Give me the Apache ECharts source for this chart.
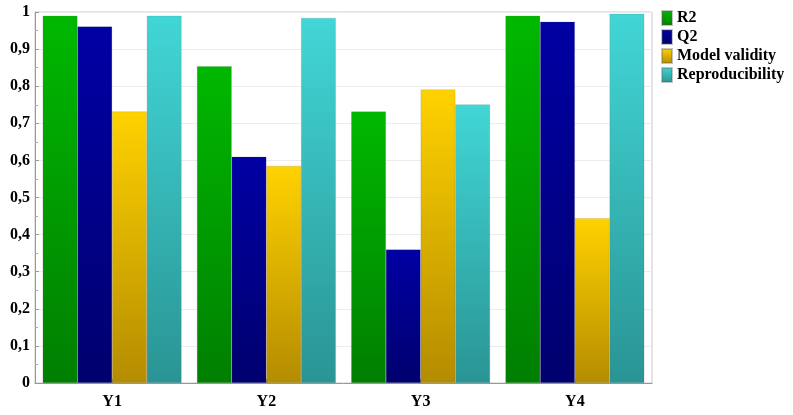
<!DOCTYPE html>
<html>
<head>
<meta charset="utf-8">
<script src="https://cdn.jsdelivr.net/npm/echarts@6/dist/echarts.min.js"></script>
<style>html,body{margin:0;padding:0;background:#fff}#c{width:793px;height:415px}</style>
</head>
<body>
<div id="c"></div>
<script>
var categories = ['Y1', 'Y2', 'Y3', 'Y4'];
var seriesNames = ['R2', 'Q2', 'Model validity', 'Reproducibility'];
var r2 = [0.990, 0.854, 0.732, 0.990];
var q2 = [0.961, 0.610, 0.360, 0.974];
var modelValidity = [0.732, 0.585, 0.791, 0.444];
var reproducibility = [0.990, 0.984, 0.751, 0.995];
var yTicks = [0, 0.1, 0.2, 0.3, 0.4, 0.5, 0.6, 0.7, 0.8, 0.9, 1];

var values = [r2, q2, modelValidity, reproducibility];
var colorTop = ['#00b800', '#0000a4', '#ffd200', '#42d6d6'];
var colorBottom = ['#007f00', '#00006e', '#b48c00', '#2a9494'];
var FONT = '"Liberation Serif", "Times New Roman", serif';

function grad(i) {
  return new echarts.graphic.LinearGradient(0, 0, 0, 1, [
    {offset: 0, color: colorTop[i]}, {offset: 1, color: colorBottom[i]}
  ]);
}

var chart = echarts.init(document.getElementById('c'));
chart.setOption({
  animation: false,
  grid: {left: 35, right: 141, top: 12, bottom: 32, show: true, borderColor: '#c8c8c8', borderWidth: 1},
  legend: {
    orient: 'vertical', left: 661, top: 10, padding: 0, itemWidth: 10, itemHeight: 14, itemGap: 3,
    icon: 'rect',
    textStyle: {fontFamily: FONT, fontWeight: 'bold', fontSize: 16, lineHeight: 16, color: '#000', padding: [0, 0, 0, 0]},
    data: seriesNames
  },
  xAxis: {
    type: 'category', data: categories,
    axisLine: {lineStyle: {color: '#999'}},
    axisTick: {show: true, alignWithLabel: true, inside: true, length: 4, lineStyle: {color: '#888'}},
    axisLabel: {fontFamily: FONT, fontWeight: 'bold', fontSize: 16, color: '#000', margin: 11}
  },
  yAxis: {
    type: 'value', min: 0, max: 1, interval: 0.1,
    axisLine: {show: true, lineStyle: {color: '#999'}},
    axisTick: {show: true, inside: true, length: 4, lineStyle: {color: '#999'}},
    minorTick: {show: true, splitNumber: 2, length: 3, lineStyle: {color: '#aaa'}},
    splitLine: {lineStyle: {color: '#ececec'}},
    axisLabel: {
      fontFamily: FONT, fontWeight: 'bold', fontSize: 16, color: '#000', margin: 5,
      formatter: function (v) {
        var best = yTicks.reduce(function (a, b) { return Math.abs(b - v) < Math.abs(a - v) ? b : a; });
        return String(best).replace('.', ',');
      }
    }
  },
  series: seriesNames.map(function (n, i) {
    return {
      name: n, type: 'bar', data: values[i],
      barGap: '0%', barCategoryGap: '10%',
      itemStyle: {color: grad(i), borderColor: 'rgba(90,90,90,0.35)', borderWidth: 0.5}
    };
  })
});
</script>
</body>
</html>
